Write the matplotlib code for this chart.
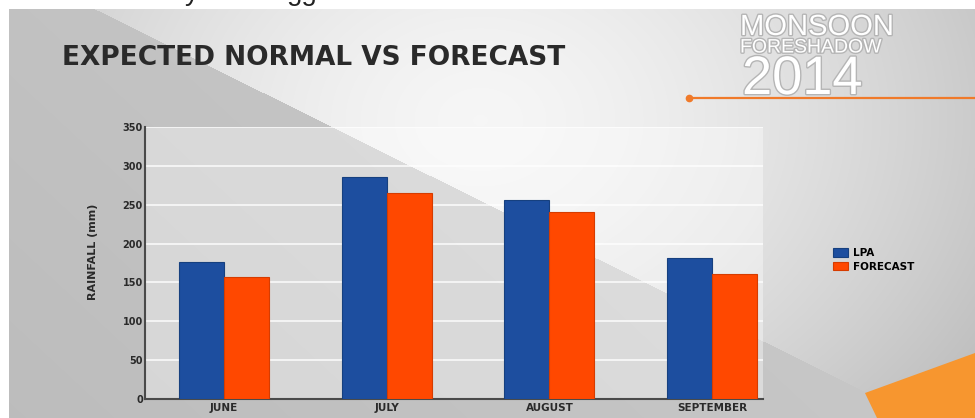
import numpy as np
import matplotlib
matplotlib.use("Agg")
import matplotlib.pyplot as plt
from matplotlib.patches import Polygon
import matplotlib.patheffects as pe

# ---- data ----
months = ["JUNE", "JULY", "AUGUST", "SEPTEMBER"]
lpa = [176, 286, 256, 181]
forecast = [157, 265, 241, 161]
series_names = ["LPA", "FORECAST"]
y_ticks = [0, 50, 100, 150, 200, 250, 300, 350]

W, H = 975, 418
fig = plt.figure(figsize=(W / 100, H / 100), dpi=100)
fig.patch.set_facecolor("white")

# ---- background (pixel coords) ----
bg = fig.add_axes([0, 0, 1, 1])
bg.set_xlim(0, W)
bg.set_ylim(H, 0)
bg.axis("off")

yy, xx = np.mgrid[0:H, 0:W].astype(float)
line_y = 10 + 0.497 * (xx - 97)
below = yy > line_y
d = np.sqrt((xx - 480) ** 2 + ((yy - 120) * 1.3) ** 2)
bB = 0.965 - 0.17 * np.clip(d / 500, 0, 1.3) ** 1.5
bA = 0.76 + 0.04 * (xx / 900) - 0.02 * (yy / H)
b = np.where(below, bA, bB)
img = np.dstack([b, b, b])
img[:9, :, :] = 1.0
img[:, :9, :] = 1.0
bg.imshow(img, extent=(0, W, H, 0), aspect="auto", interpolation="bilinear", zorder=0)

bg.add_patch(Polygon([(865, 393), (975, 353), (975, 418), (877, 418)],
                     closed=True, facecolor="#f7962f", edgecolor="none", zorder=1))
bg.plot([689, 975], [98, 98], color="#f07a2a", lw=1.6, zorder=2)
bg.plot([689], [98], "o", color="#f07a2a", ms=4.5, zorder=2)

# cropped fragments of a text line above the slide (only descenders visible)
fig.text(185 / W, 1 - 6 / H, "y", fontsize=20, family="Liberation Sans", color="#222222", va="bottom")
fig.text(287 / W, 1 - 6 / H, "gg", fontsize=20, family="Liberation Sans", color="#222222", va="bottom")

# title
fig.text(62 / W, 1 - 65 / H, "EXPECTED NORMAL VS FORECAST", fontsize=19,
         family="DejaVu Sans", weight="bold", color="#2a2a2a", va="baseline")

# branding
glow = [pe.withStroke(linewidth=2.0, foreground="#b5b5b5")]
fig.text(740 / W, 1 - 35 / H, "MONSOON", fontsize=21, family="Liberation Sans",
         color="white", va="baseline", path_effects=glow)
fig.text(740 / W, 1 - 52.5 / H, "FORESHADOW", fontsize=14, family="Liberation Sans",
         color="white", va="baseline", path_effects=glow)
fig.text(742 / W, 1 - 94 / H, "2014", fontsize=39, family="Liberation Sans",
         color="white", va="baseline", path_effects=glow)

# ---- chart ----
L, R, T, B = 145, 763, 127, 399
ax = fig.add_axes([L / W, 1 - B / H, (R - L) / W, (B - T) / H])
ax.set_facecolor((1, 1, 1, 0.38))

x = np.arange(len(months))
bw = 0.277
ax.bar(x - bw / 2, lpa, width=bw, color="#1d4e9f", edgecolor="#16407f", lw=0.8,
       label=series_names[0], zorder=3)
ax.bar(x + bw / 2, forecast, width=bw, color="#ff4800", edgecolor="#d63c00", lw=0.8,
       label=series_names[1], zorder=3)

ax.set_xlim(-0.486, 3.313)
ax.set_ylim(0, 350)
ax.set_yticks(y_ticks)
ax.set_yticklabels([str(v) for v in y_ticks])
ax.set_xticks(x)
ax.set_xticklabels(months)
ax.tick_params(axis="both", length=0, colors="#2a2a2a", labelsize=7)
ax.tick_params(axis="y", pad=1.5)
ax.tick_params(axis="x", pad=3)
for lab in ax.get_xticklabels() + ax.get_yticklabels():
    lab.set_fontweight("bold")
    lab.set_family("DejaVu Sans")
for lab in ax.get_xticklabels():
    lab.set_fontsize(7.5)

ax.grid(axis="y", color="white", lw=1.2, alpha=0.85, zorder=1)
ax.set_axisbelow(True)
for s in ["top", "right"]:
    ax.spines[s].set_visible(False)
for s in ["left", "bottom"]:
    ax.spines[s].set_color("#4a4a4a")
    ax.spines[s].set_linewidth(1.5)

ax.set_ylabel("RAINFALL (mm)", fontsize=8, weight="bold", color="#2a2a2a", family="DejaVu Sans")
ax.yaxis.set_label_coords((98 - L) / (R - L), (B - 252) / (B - T))

fig.legend(loc="upper left", bbox_to_anchor=(833 / W, 1 - 248 / H), frameon=False,
           handlelength=1.45, handleheight=0.85, handletextpad=0.5,
           labelspacing=0.35, borderpad=0, borderaxespad=0,
           prop={"weight": "bold", "family": "DejaVu Sans", "size": 7.5})

fig.savefig("out.png", dpi=100, facecolor=fig.get_facecolor())
